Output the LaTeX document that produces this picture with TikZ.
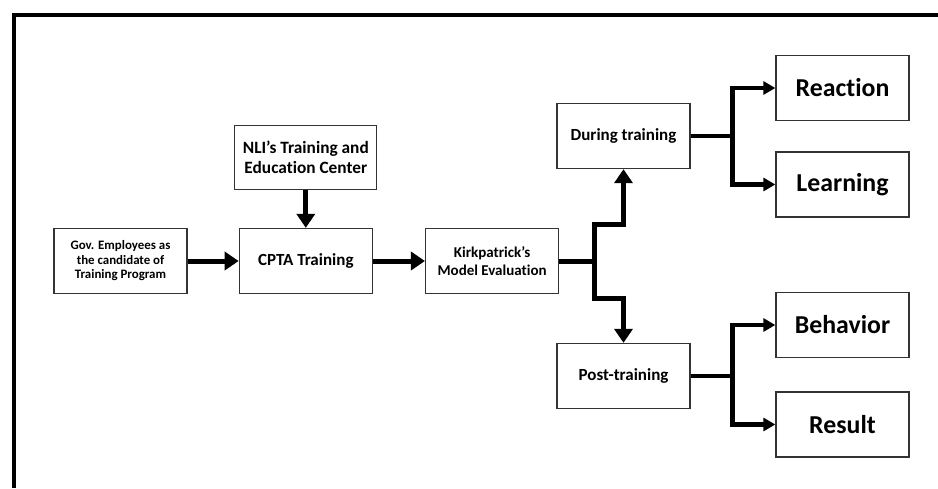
\documentclass[tikz,border=0pt]{standalone}
\usepackage{fontspec}
\setmainfont{Carlito}[Ligatures=NoCommon]
\usetikzlibrary{arrows.meta,positioning}

\begin{document}
\begin{tikzpicture}[x=1pt, y=-1pt, font=\bfseries,
  box/.style={draw=black!80, line width=1.3pt, align=center, minimum width=133pt, minimum height=65pt, inner sep=2pt},
  flow/.style={line width=5pt, -{Triangle[length=14pt,width=18pt]}},
  branch/.style={line width=4.5pt, -{Triangle[length=12pt,width=13pt]}}]
\useasboundingbox (0,0) rectangle (938,488);
\draw[line width=4pt] (14,488) -- (14,15) -- (938,15);
\node[box, font=\bfseries\fontsize{12.9}{14.5}\selectfont] (gov) at (120.5,261) {Gov. Employees as\\the candidate of\\Training Program};
\node[box, right=51pt of gov, font=\bfseries\fontsize{17}{20}\selectfont] (cpta) {CPTA Training};
\node[box, above=38pt of cpta, minimum width=142pt, minimum height=64pt, font=\bfseries\fontsize{17.3}{20.5}\selectfont] (nli) {NLI’s Training and\\Education Center};
\node[box, right=52pt of cpta, font=\bfseries\fontsize{15}{18}\selectfont] (kirk) {Kirkpatrick’s\\Model Evaluation};
\node[box, font=\bfseries\fontsize{17}{20}\selectfont] (during) at (623.5,136) {During training};
\node[box, font=\bfseries\fontsize{17}{20}\selectfont] (post) at (623.5,376) {Post-training};
\node[box, font=\bfseries\fontsize{25.8}{30}\selectfont] (reaction) at (842.5,88) {Reaction};
\node[box, font=\bfseries\fontsize{25.8}{30}\selectfont] (learning) at (842.5,184.5) {Learning};
\node[box, font=\bfseries\fontsize{25.8}{30}\selectfont] (behavior) at (842.5,325) {Behavior};
\node[box, font=\bfseries\fontsize{25.8}{30}\selectfont] (result) at (842.5,424.5) {Result};
\draw[flow] (gov) -- (cpta);
\draw[flow] (nli) -- (cpta);
\draw[flow] (cpta) -- (kirk);
\draw[line width=5pt] (kirk.east) -- ++(35,0) coordinate (fork);
\draw[flow] (fork) -- ++(0,-37) -| (during.south);
\draw[flow] (fork) -- ++(0,37) -| (post.north);
\draw[line width=4.5pt] (during.east) -- ++(42,0) coordinate (dfork);
\draw[branch] (dfork) |- (reaction.west);
\draw[branch] (dfork) |- (learning.west);
\draw[line width=4.5pt] (post.east) -- ++(42,0) coordinate (pfork);
\draw[branch] (pfork) |- (behavior.west);
\draw[branch] (pfork) |- (result.west);
\end{tikzpicture}
\end{document}
